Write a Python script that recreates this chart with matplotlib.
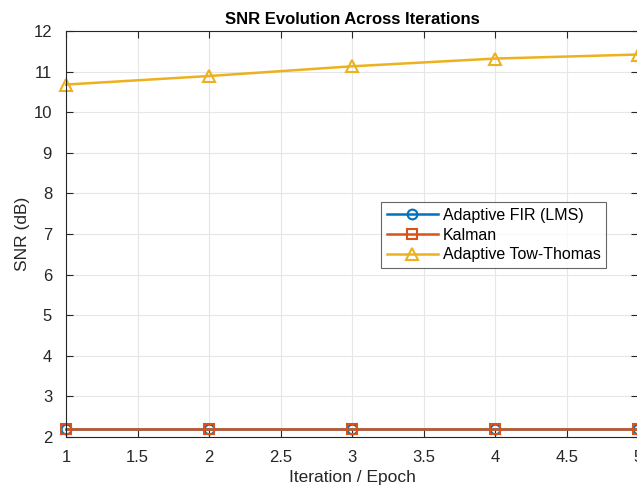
import numpy as np
import matplotlib.pyplot as plt

plt.rcParams['font.family'] = ['Liberation Sans', 'DejaVu Sans']

##-----------DATA-----------##
iterations = [1, 2, 3, 4, 5]
snr_fir = [2.2, 2.2, 2.2, 2.2, 2.2]
snr_kalman = [2.2, 2.2, 2.2, 2.2, 2.2]
snr_tow = [10.68, 10.89, 11.13, 11.32, 11.42]
labels = ['Adaptive FIR (LMS)', 'Kalman', 'Adaptive Tow-Thomas']

##-----------PLOT-----------##
fig = plt.figure(figsize=(6.37, 4.86), dpi=100)
ax = fig.add_axes([0.1036, 0.1008, 0.8984, 0.8355])

ax.plot(iterations, snr_fir, '-o', color='#0072BD', lw=1.8, ms=7, mfc='none', mew=1.5, label=labels[0], clip_on=False)
ax.plot(iterations, snr_kalman, '-s', color='#D95319', lw=1.8, ms=7, mfc='none', mew=1.5, label=labels[1], clip_on=False)
ax.plot(iterations, snr_tow, '-^', color='#EDB120', lw=1.8, ms=8, mfc='none', mew=1.5, label=labels[2], clip_on=False)

ax.set_xlim(1, 5)
ax.set_ylim(2, 12)
ax.set_xticks(np.arange(1, 5.01, 0.5))
ax.set_xticklabels(['1', '1.5', '2', '2.5', '3', '3.5', '4', '4.5', '5'])
ax.set_yticks(range(2, 13))
ax.grid(True, color='#E6E6E6', lw=0.8)
ax.set_axisbelow(True)
ax.tick_params(direction='in', top=True, right=True, labelsize=12, colors='#262626', length=5)
ax.tick_params(axis='x', pad=9)
ax.tick_params(axis='y', pad=10)
for s in ax.spines.values():
	s.set_color('#262626'); s.set_linewidth(0.8)

ax.set_title('SNR Evolution Across Iterations', fontsize=12, fontweight='bold', pad=5)
ax.set_xlabel('Iteration / Epoch', fontsize=12.5, color='#262626', labelpad=4)
ax.set_ylabel('SNR (dB)', fontsize=12.5, color='#262626')
ax.yaxis.set_label_coords(-0.063, 0.5)

leg = ax.legend(loc='upper left', bbox_to_anchor=(0.551, 0.578), fontsize=11.5, frameon=True,
				fancybox=False, edgecolor='#404040', handlelength=3.2, borderpad=0.35,
				labelspacing=0.3, handletextpad=0.3, borderaxespad=0)
leg.get_frame().set_linewidth(0.8)

fig.savefig('out.png', dpi=100)
